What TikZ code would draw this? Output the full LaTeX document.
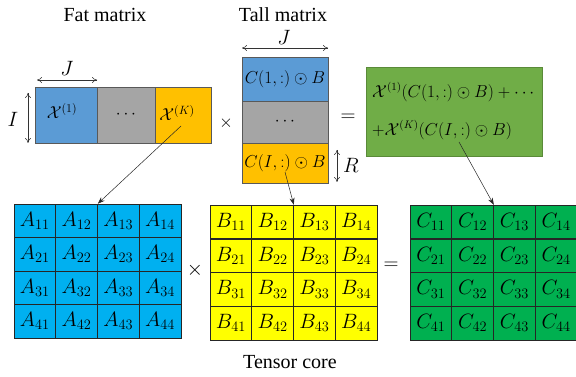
\documentclass[tikz,border=0pt]{standalone}
\usepackage{fontspec}
\setmainfont{Liberation Serif}
\usetikzlibrary{arrows.meta}
\definecolor{fatblue}{HTML}{5B9BD5}
\definecolor{fatgray}{HTML}{A5A5A5}
\definecolor{fatorange}{HTML}{FFC000}
\definecolor{resgreen}{HTML}{70AD47}
\definecolor{gridblue}{HTML}{00B0F0}
\definecolor{gridyellow}{HTML}{FFFF00}
\definecolor{gridgreen}{HTML}{00B050}
\newcommand\gentry[2]{$#1_{\mbox{\fontsize{14.4}{15}\selectfont$#2$}}$}
\begin{document}
\begin{tikzpicture}[x=1pt,y=-1pt,
  blk/.style={draw=gray!70!black, line width=0.5pt, inner sep=0pt, font=\fontsize{16.5}{20}\selectfont},
  title/.style={font=\fontsize{20}{24}\selectfont},
  mlab/.style={font=\fontsize{17}{20}\selectfont, inner sep=0pt},
  biglab/.style={font=\fontsize{20}{24}\selectfont, inner sep=0pt},
  dim/.style={{To[length=5pt,width=6pt]}-{To[length=5pt,width=6pt]}, line width=0.5pt, black!80},
  cell/.style={draw=black!85, line width=0.6pt, minimum width=41.75pt, minimum height=33.5pt, inner sep=0pt, font=\fontsize{20}{22}\selectfont},
  link/.style={-{Stealth[length=7pt,width=5pt]}, line width=0.5pt, black!85}
]
\useasboundingbox (0,0) rectangle (576,377);

% titles
\node[title] (tfat) at (105,15) {Fat matrix};
\node[title] (ttall) at (283,15) {Tall matrix};
\node[title] (tcore) at (290,362) {Tensor core};

% fat matrix
\node[blk, fill=fatblue, minimum width=62pt, minimum height=56pt] (x1) at (66,115) {};
\node[mlab, font=\fontsize{17}{20}\selectfont] (x1t) at (62,111) {$\mathcal{X}^{(1)}$};
\node[blk, fill=fatgray, minimum width=58pt, minimum height=56pt] (xd) at (126,115) {$\cdots$};
\node[blk, fill=fatorange, minimum width=56pt, minimum height=56pt] (xk) at (183,115) {};
\node[mlab, font=\fontsize{17}{20}\selectfont] (xkt) at (177,113) {$\mathcal{X}^{(K)}$};
\coordinate (jl) at (37,80); \coordinate (jr) at (97,80);
\draw[dim] (jl) -- (jr);
\node[biglab] (jlab) at (67,68) {$J$};
\coordinate (it) at (28,93); \coordinate (ib) at (28,143);
\draw[dim] (it) -- (ib);
\node[biglab] (ilab) at (13,119) {$I$};
\node[mlab] (times1) at (226,123) {$\times$};

% tall matrix
\node[blk, fill=fatblue, minimum width=86pt, minimum height=44pt] (c1) at (285,79) {$C(1,:)\odot B$};
\node[blk, fill=fatgray, minimum width=86pt, minimum height=42pt] (cd) at (285,122) {$\cdots$};
\node[blk, fill=fatorange, minimum width=86pt, minimum height=40pt] (ci) at (285,163) {$C(I,:)\odot B$};
\coordinate (tjl) at (242,48); \coordinate (tjr) at (328,48);
\draw[dim] (tjl) -- (tjr);
\node[biglab] (tjlab) at (284,37) {$J$};
\coordinate (rt) at (337,150); \coordinate (rb) at (337,182);
\draw[dim] (rt) -- (rb);
\node[biglab] (rlab) at (351,165) {$R$};
\node[biglab] (eq1) at (348,118) {$=$};

% result box
\node[draw=resgreen!80!black, fill=resgreen, minimum width=176pt, minimum height=89pt, inner sep=0pt] (res) at (454,111.5) {};
\node[mlab, anchor=west, font=\fontsize{16}{20}\selectfont] (r1) at (372,92) {$\mathcal{X}^{(1)}(C(1,:)\odot B)+\cdots$};
\node[mlab, anchor=west, font=\fontsize{16}{20}\selectfont] (r2) at (372,130) {$+\mathcal{X}^{(K)}(C(I,:)\odot B)$};

% grids
\foreach \r in {1,...,4}{
  \foreach \c in {1,...,4}{
    \node[cell, fill=gridblue] (A-\r-\c) at ({14+41.75*(\c-0.5)},{204+33.5*(\r-0.5)}) {\gentry{A}{\r\c}};
    \node[cell, fill=gridyellow] (B-\r-\c) at ({210+41.75*(\c-0.5)},{205+33.75*(\r-0.5)}) {\gentry{B}{\r\c}};
    \node[cell, fill=gridgreen] (C-\r-\c) at ({410+41.75*(\c-0.5)},{205+33.75*(\r-0.5)}) {\gentry{C}{\r\c}};
  }
}
\node[biglab] (times2) at (195,270) {$\times$};
\node[biglab] (eq2) at (391,266) {$=$};

% links
\coordinate (s1) at (181,126);
\coordinate (s2) at (285,172);
\coordinate (s3) at (459,142);
\draw[link] (s1) -- (A-1-2.north east);
\draw[link] (s2) -- (B-1-2.north east);
\draw[link] (s3) -- (C-1-2.north east);
\end{tikzpicture}
\end{document}
